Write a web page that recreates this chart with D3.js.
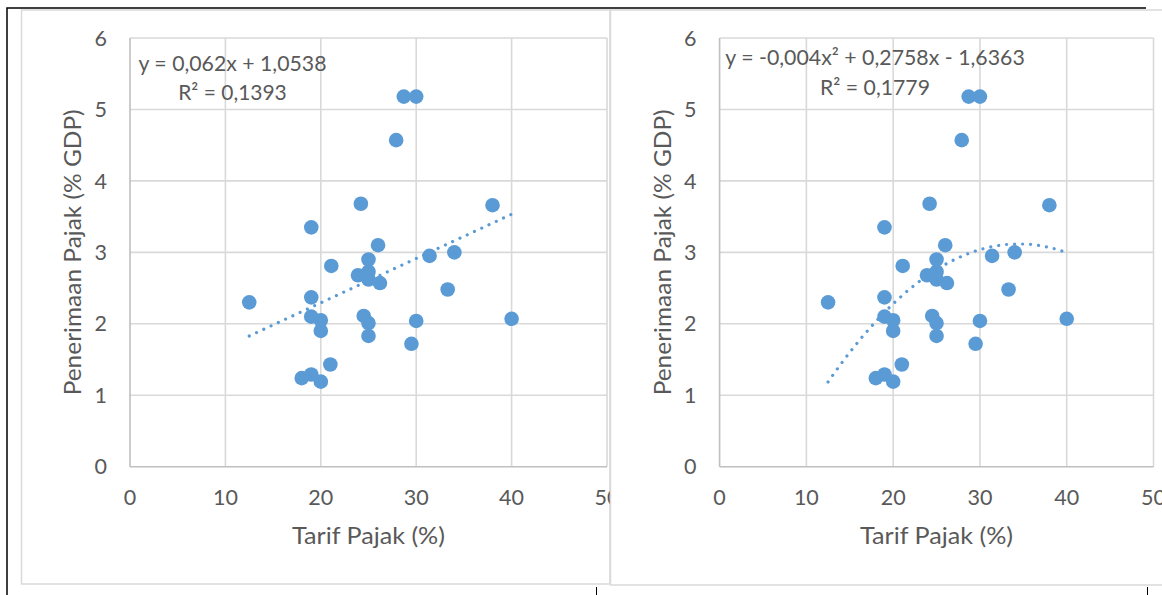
<!DOCTYPE html>
<html>
<head>
<meta charset="utf-8">
<script src="https://cdn.jsdelivr.net/npm/d3@7"></script>
<style>
  body { margin: 0; background: #fff; }
  svg { display: block; font-family: Lato, "Open Sans", sans-serif; }
</style>
</head>
<body>
<div id="chart"></div>
<script>
// tarif pajak (%) and penerimaan pajak (% GDP), one point per country
const tarifPajak = [12.5, 19, 19, 19, 20, 20, 18, 19, 20, 21, 21.1, 24.2, 23.9, 25, 25, 25,
    26, 26.2, 24.5, 25, 25, 27.9, 28.7, 30, 29.5, 30, 31.4, 33.3, 34, 38, 40];
const penerimaan = [2.30, 3.35, 2.37, 2.10, 2.05, 1.90, 1.24, 1.29, 1.19, 1.43, 2.81, 3.68, 2.68, 2.90, 2.73, 2.62,
    3.10, 2.57, 2.11, 2.01, 1.83, 4.57, 5.18, 5.18, 1.72, 2.04, 2.95, 2.48, 3.00, 3.66, 2.07];

// trendline coefficients as printed on the charts (highest power first)
const linearCoef = [0.062, 1.0538];
const polyCoef = [-0.004, 0.2758, -1.6363];
const linearLabel = ["y = 0,062x + 1,0538", "R² = 0,1393"];
const polyLabel = ["y = -0,004x² + 0,2758x - 1,6363", "R² = 0,1779"];

const xTicks = [0, 10, 20, 30, 40, 50];
const yTicks = [0, 1, 2, 3, 4, 5, 6];
const xTitle = "Tarif Pajak (%)";
const yTitle = "Penerimaan Pajak (% GDP)";

const width = 1162, height = 595;
const blue = "#5b9bd5", textColor = "#595959";

const svg = d3.select("#chart").append("svg")
    .attr("width", width)
    .attr("height", height);

const defs = svg.append("defs");

function polyAt(coef, x) {
    return coef.reduce((acc, c) => acc * x + c, 0);
}

function drawPanel(p) {
    defs.append("clipPath").attr("id", p.id)
        .append("rect")
        .attr("x", p.area.x).attr("y", p.area.y)
        .attr("width", p.area.w).attr("height", p.area.h);

    // chart area frame
    svg.append("rect")
        .attr("x", p.area.x).attr("y", p.area.y)
        .attr("width", p.area.w).attr("height", p.area.h)
        .attr("fill", "#fff")
        .attr("stroke", "#d9d9d9")
        .attr("stroke-width", 1.5);

    const g = svg.append("g").attr("clip-path", `url(#${p.id})`);

    const x = d3.scaleLinear().domain([0, 50]).range([p.plot.x0, p.plot.x1]);
    const y = d3.scaleLinear().domain([0, 6]).range([p.plot.y1, p.plot.y0]);

    // gridlines
    g.append("g").selectAll("line").data(xTicks.slice(1)).join("line")
        .attr("x1", d => x(d)).attr("x2", d => x(d))
        .attr("y1", y(0)).attr("y2", y(6))
        .attr("stroke", "#d9d9d9").attr("stroke-width", 1.6);
    g.append("g").selectAll("line").data(yTicks.slice(1)).join("line")
        .attr("x1", x(0)).attr("x2", x(50))
        .attr("y1", d => y(d)).attr("y2", d => y(d))
        .attr("stroke", "#d9d9d9").attr("stroke-width", 1.6);

    // axis lines
    g.append("line")
        .attr("x1", x(0)).attr("x2", x(50)).attr("y1", y(0)).attr("y2", y(0))
        .attr("stroke", "#bfbfbf").attr("stroke-width", 1.6);
    g.append("line")
        .attr("x1", x(0)).attr("x2", x(0)).attr("y1", y(0)).attr("y2", y(6))
        .attr("stroke", "#bfbfbf").attr("stroke-width", 1.6);

    // tick labels
    g.append("g").selectAll("text").data(xTicks).join("text")
        .attr("x", d => x(d)).attr("y", y(0) + 38.5)
        .attr("text-anchor", "middle")
        .attr("font-size", 21.5).attr("fill", textColor)
        .text(d => d);
    g.append("g").selectAll("text").data(yTicks).join("text")
        .attr("x", x(0) - 23).attr("y", d => y(d) + 7.6)
        .attr("text-anchor", "end")
        .attr("font-size", 21.5).attr("fill", textColor)
        .text(d => d);

    // axis titles
    g.append("text")
        .attr("x", (x(0) + x(50)) / 2).attr("y", 544)
        .attr("text-anchor", "middle")
        .attr("font-size", 23.5).attr("fill", textColor)
        .attr("textLength", 153).attr("lengthAdjust", "spacingAndGlyphs")
        .text(xTitle);
    g.append("text")
        .attr("transform", `translate(${x(0) - 49},${(y(0) + y(6)) / 2}) rotate(-90)`)
        .attr("text-anchor", "middle")
        .attr("font-size", 23.5).attr("fill", textColor)
        .attr("textLength", 286).attr("lengthAdjust", "spacingAndGlyphs")
        .text(yTitle);

    // points
    g.append("g").attr("fill", blue)
        .selectAll("circle").data(tarifPajak).join("circle")
        .attr("cx", d => x(d))
        .attr("cy", (d, i) => y(penerimaan[i]))
        .attr("r", 7.3);

    // trendline over the data range
    const lo = d3.min(tarifPajak), hi = d3.max(tarifPajak);
    const xs = d3.range(lo, hi + 0.001, (hi - lo) / 110);
    g.append("path")
        .datum(xs)
        .attr("fill", "none")
        .attr("stroke", blue)
        .attr("stroke-width", 3.2)
        .attr("stroke-linecap", "round")
        .attr("stroke-dasharray", "0.01 8")
        .attr("d", d3.line().x(d => x(d)).y(d => y(polyAt(p.coef, d))));

    // equation label
    const eq = g.append("g").attr("fill", textColor).attr("font-size", 21.5).attr("text-anchor", "middle");
    eq.append("text").attr("x", p.eq.cx).attr("y", p.eq.b1)
        .attr("textLength", p.eq.w1).attr("lengthAdjust", "spacingAndGlyphs")
        .text(p.label[0]);
    eq.append("text").attr("x", p.eq.cx).attr("y", p.eq.b2)
        .attr("textLength", p.eq.w2).attr("lengthAdjust", "spacingAndGlyphs")
        .text(p.label[1]);
}

drawPanel({
    id: "clipLeft",
    area: { x: 21.5, y: 10, w: 588.5, h: 574 },
    plot: { x0: 130, x1: 607, y0: 38, y1: 466.7 },
    coef: linearCoef,
    label: linearLabel,
    eq: { cx: 232.5, b1: 71, b2: 99.5, w1: 188, w2: 108.5 }
});

drawPanel({
    id: "clipRight",
    area: { x: 610.5, y: 10, w: 600, h: 575 },
    plot: { x0: 719.6, x1: 1153.5, y0: 38, y1: 466.7 },
    coef: polyCoef,
    label: polyLabel,
    eq: { cx: 875, b1: 65, b2: 94.5, w1: 299.5, w2: 110 }
});

// page frame bits around the charts
svg.append("path")
    .attr("d", "M7,595 V8 H1146")
    .attr("fill", "none")
    .attr("stroke", "#000")
    .attr("stroke-width", 1.5);
svg.append("g").attr("stroke", "#000").attr("stroke-width", 1)
    .selectAll("line").data([596, 1147]).join("line")
    .attr("x1", d => d + 0.5).attr("x2", d => d + 0.5)
    .attr("y1", 587).attr("y2", 595);
</script>
</body>
</html>
